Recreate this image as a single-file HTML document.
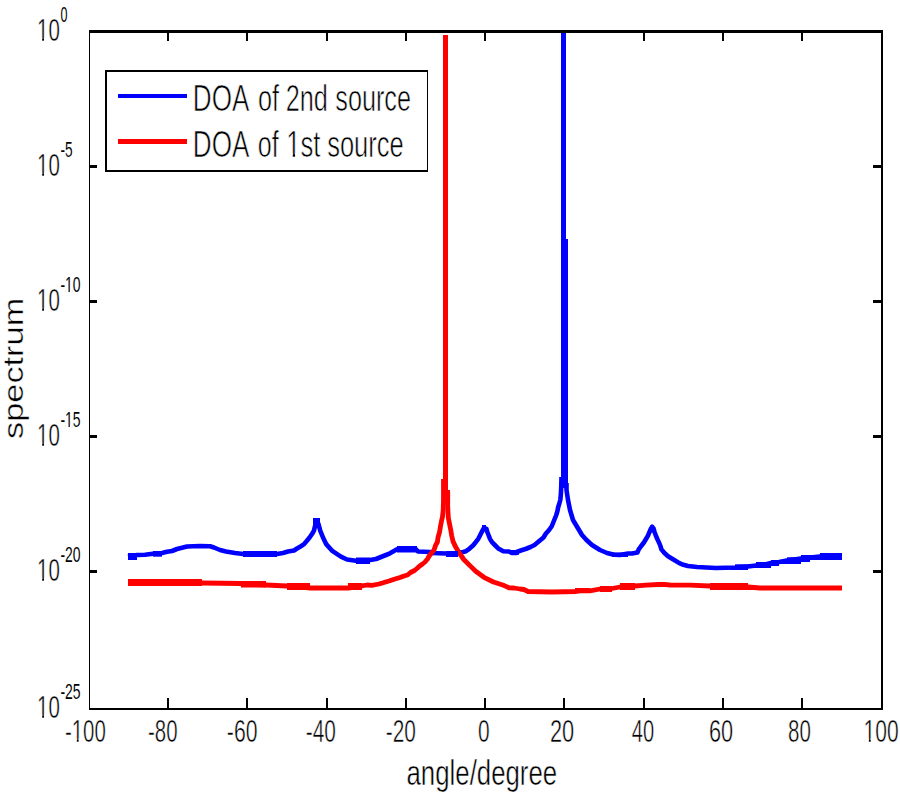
<!DOCTYPE html>
<html><head><meta charset="utf-8"><title>DOA spectrum</title>
<style>
html,body{margin:0;padding:0;background:#fff;width:900px;height:800px;overflow:hidden}
svg{display:block}
text{font-family:"Liberation Sans",Arial,sans-serif;fill:#000;font-kerning:none}
</style></head><body>
<svg width="900" height="800" viewBox="0 0 900 800">
<rect width="900" height="800" fill="#fff"/>
<g id="ticks" shape-rendering="crispEdges">
<rect x="167" y="33" width="2" height="8" fill="#000"/>
<rect x="167" y="698" width="2" height="10" fill="#000"/>
<rect x="246" y="33" width="2" height="8" fill="#000"/>
<rect x="246" y="698" width="2" height="10" fill="#000"/>
<rect x="326" y="33" width="2" height="8" fill="#000"/>
<rect x="326" y="698" width="2" height="10" fill="#000"/>
<rect x="405" y="33" width="2" height="8" fill="#000"/>
<rect x="405" y="698" width="2" height="10" fill="#000"/>
<rect x="484" y="33" width="2" height="8" fill="#000"/>
<rect x="484" y="698" width="2" height="10" fill="#000"/>
<rect x="563" y="33" width="2" height="8" fill="#000"/>
<rect x="563" y="698" width="2" height="10" fill="#000"/>
<rect x="643" y="33" width="2" height="8" fill="#000"/>
<rect x="643" y="698" width="2" height="10" fill="#000"/>
<rect x="722" y="33" width="2" height="8" fill="#000"/>
<rect x="722" y="698" width="2" height="10" fill="#000"/>
<rect x="801" y="33" width="2" height="8" fill="#000"/>
<rect x="801" y="698" width="2" height="10" fill="#000"/>
<rect x="90" y="165" width="7" height="3" fill="#000"/>
<rect x="873" y="165" width="8" height="3" fill="#000"/>
<rect x="90" y="300" width="7" height="3" fill="#000"/>
<rect x="873" y="300" width="8" height="3" fill="#000"/>
<rect x="90" y="435" width="7" height="3" fill="#000"/>
<rect x="873" y="435" width="8" height="3" fill="#000"/>
<rect x="90" y="570" width="7" height="3" fill="#000"/>
<rect x="873" y="570" width="8" height="3" fill="#000"/>
</g>
<g id="plot">
<polyline points="128,556.5 137,555 145,554.8 153,553.8 162,553 167,551.8 172,551 177,549 182,547.8 187,546.5 200,546 210,546.3 214,547.5 220,550 226,551.5 235,553 243,554 260,554.5 277,554 283,553 288,551.5 294,550.5 297,548.5 300.5,546.5 303.7,544.4 306.7,541 309.6,537.5 312,534 314,530.6 315.5,524 316.5,521 318.5,524 320.2,530.6 323,537.5 326.4,544.4 332.6,551.2 340.9,556.7 347,559.5 356,560.8 363,561 370,560 376,559 381,557 386,555 390,553.3 394,551 397,549.3 416,549.3 418,551.5 430,552 432,553 446,553.5 456,554 460,552.5 463,552 466,551.2 469.3,548.8 473,545.5 475.7,542.2 478.3,538.8 480,535.5 482,531.5 484,528 486.5,529 487.3,532 488.7,535.5 490,538.8 492,542.2 495.3,545.5 498.7,548.8 503.3,551.2 509,551.5 512,553 516,553 517.25,551.75 521.5,550.3 526.25,548.75 530.5,547 534.5,545 539,541.25 543.5,537.5 545.75,533.75 549.1,530 551.75,526.25 553.25,522.5 554.75,518.75 556.25,515 557.4,511.25 558.1,507.5 559.25,503.75 560.3,500 560.9,494 561.3,485 561.5,477" fill="none" stroke="#0000ff" stroke-width="4.6" stroke-linejoin="round"/>
<polyline points="566.5,483 566.5,490 568,500 570,510 573,520 576,525 579,530 582,535 586.5,540 592,545 600,550 607,553 614,554.8 620,555 628,553.5 632,553.5 637.4,552.6 638.7,549.4 641.2,546 643.9,542.5 646,539 648,535.6 649.4,532.2 651,528.5 652.2,526.8 653.5,528.5 654.6,532.2 655.9,535.6 657.3,539 659,542.5 660.4,546 661.4,549.4 664.2,552.8 668,556.2 673.8,559.7 679.3,563.1 683.4,564.8 688,566 697,567 716,568 735,567.5 748,566.5 756,565.5 763,565 771,563 779,562 787,560.5 794,559.5 801,558.5 810,557.5 820,556.5 830,556 842,556" fill="none" stroke="#0000ff" stroke-width="4.6" stroke-linejoin="round"/>
<polyline points="128,582.5 202,583 241,583.5 253,584.2 266,585 287,586 300,586.8 310,588 348,588 355,587 362,585.8 367,585 372,585.3 379,584 384,582.5 389,581 392,580 395,579 400,577.5 404,576 407.5,575 410.5,572.5 414.5,570.5 417.5,568 419.7,566 422.5,564 425,562 427.5,559 429.2,556 431.5,553 434,550 435.5,545.5 437.4,542 438,537.5 439.6,532 440.5,526.2 441.6,520.6 442.5,516.7 443.2,510 443.5,500 443.5,490 443.5,479" fill="none" stroke="#ff0000" stroke-width="4.8" stroke-linejoin="round"/>
<polyline points="447.75,492 447.7,506 448.3,517.8 449.5,523.8 450.7,529.7 451.7,535.7 453.1,541.6 456,547.6 459.6,553.5 463.8,559.5 469.7,565.4 475.7,571.3 484,577.3 493.5,582 504.2,585.6 509,587.8 514,588 520,589 524,589.5 528,591.5 552,592 575,591.5 582,590.5 590,590.8 600,589 612,588.5 620,587 635,586 646,585.2 658,584.5 664,584.3 670,585 690,585.2 710,586 748,587 760,588 842,588" fill="none" stroke="#ff0000" stroke-width="4.8" stroke-linejoin="round"/>
<rect x="561" y="32" width="5" height="452" fill="#0000ff"/>
<rect x="563" y="239" width="5" height="249" fill="#0000ff"/>
<rect x="443" y="35" width="5" height="457" fill="#ff0000"/>
<rect x="445.5" y="490" width="4.5" height="15" fill="#ff0000"/>
<rect x="128" y="553" width="9" height="7" fill="#0000ff"/>
<rect x="153" y="551" width="9" height="5.7000000000000455" fill="#0000ff"/>
<rect x="243" y="551" width="34" height="6" fill="#0000ff"/>
<rect x="356" y="557.5" width="14" height="6.5" fill="#0000ff"/>
<rect x="446" y="551" width="12" height="6" fill="#0000ff"/>
<rect x="510" y="550" width="9" height="4.75" fill="#0000ff"/>
<rect x="612" y="552.5" width="16" height="4.5" fill="#0000ff"/>
<rect x="730" y="566" width="5" height="4" fill="#0000ff"/>
<rect x="735" y="564.3" width="13" height="5.7000000000000455" fill="#0000ff"/>
<rect x="748" y="564.3" width="8" height="3.7000000000000455" fill="#0000ff"/>
<rect x="756" y="562" width="15" height="6" fill="#0000ff"/>
<rect x="771" y="560" width="8" height="6" fill="#0000ff"/>
<rect x="779" y="560" width="8" height="4" fill="#0000ff"/>
<rect x="787" y="557.3" width="14" height="6.7000000000000455" fill="#0000ff"/>
<rect x="801" y="555" width="9" height="7" fill="#0000ff"/>
<rect x="810" y="555" width="10" height="5" fill="#0000ff"/>
<rect x="820" y="553" width="22" height="7" fill="#0000ff"/>
<rect x="128" y="579" width="74" height="7" fill="#ff0000"/>
<rect x="241" y="581" width="25" height="6.5" fill="#ff0000"/>
<rect x="287" y="583" width="23" height="7" fill="#ff0000"/>
<rect x="348" y="583" width="14" height="7" fill="#ff0000"/>
<rect x="528" y="590" width="47" height="3.75" fill="#ff0000"/>
<rect x="575" y="588" width="15" height="5" fill="#ff0000"/>
<rect x="600" y="586" width="12" height="6" fill="#ff0000"/>
<rect x="620" y="583" width="15" height="7" fill="#ff0000"/>
<rect x="710" y="583" width="38" height="7" fill="#ff0000"/>
<rect x="748" y="586" width="94" height="4" fill="#ff0000"/>
<rect x="313" y="518" width="7" height="9" fill="#0000ff"/>
<rect x="482" y="525" width="4" height="6" fill="#0000ff"/>
<rect x="650.5" y="525" width="3" height="3" fill="#0000ff"/>
<rect x="650" y="527" width="5" height="5.5" fill="#0000ff"/>
<rect x="397" y="546" width="20" height="6.5" fill="#0000ff"/>
</g>
<g id="axes" shape-rendering="crispEdges">
<rect x="89" y="30" width="1" height="680" fill="#000"/>
<rect x="89" y="30" width="794" height="3" fill="#000"/>
<rect x="881" y="30" width="2" height="680" fill="#000"/>
<rect x="89" y="708" width="794" height="2" fill="#000"/>
</g>
<g id="legend">
<rect x="105" y="70" width="323" height="102" fill="#fff"/>
<g shape-rendering="crispEdges"><rect x="105" y="70" width="323" height="2" fill="#000"/><rect x="105" y="170" width="323" height="2" fill="#000"/><rect x="105" y="70" width="2" height="102" fill="#000"/><rect x="427" y="70" width="1" height="102" fill="#000"/></g>
<rect x="118" y="94" width="69" height="4" fill="#0000ff"/>
<rect x="118" y="139" width="69" height="5" fill="#ff0000"/>
</g>
<g id="labels">
<text x="37.03" y="40.80" font-size="30.5" textLength="22.77" lengthAdjust="spacingAndGlyphs" stroke="#fff" stroke-width="0.45">10</text>
<text x="60.51" y="22.00" font-size="21.5" textLength="6.98" lengthAdjust="spacingAndGlyphs" stroke="#fff" stroke-width="0.05">0</text>
<text x="37.03" y="175.80" font-size="30.5" textLength="22.77" lengthAdjust="spacingAndGlyphs" stroke="#fff" stroke-width="0.45">10</text>
<text x="60.39" y="157.00" font-size="21.5" textLength="12.18" lengthAdjust="spacingAndGlyphs" stroke="#fff" stroke-width="0.05">-5</text>
<text x="37.03" y="310.80" font-size="30.5" textLength="22.77" lengthAdjust="spacingAndGlyphs" stroke="#fff" stroke-width="0.45">10</text>
<text x="60.38" y="292.00" font-size="21.5" textLength="20.16" lengthAdjust="spacingAndGlyphs" stroke="#fff" stroke-width="0.05">-10</text>
<text x="37.03" y="445.80" font-size="30.5" textLength="22.77" lengthAdjust="spacingAndGlyphs" stroke="#fff" stroke-width="0.45">10</text>
<text x="60.38" y="427.00" font-size="21.5" textLength="20.21" lengthAdjust="spacingAndGlyphs" stroke="#fff" stroke-width="0.05">-15</text>
<text x="37.03" y="580.80" font-size="30.5" textLength="22.77" lengthAdjust="spacingAndGlyphs" stroke="#fff" stroke-width="0.45">10</text>
<text x="60.38" y="562.00" font-size="21.5" textLength="20.16" lengthAdjust="spacingAndGlyphs" stroke="#fff" stroke-width="0.05">-20</text>
<text x="37.03" y="717.80" font-size="30.5" textLength="22.77" lengthAdjust="spacingAndGlyphs" stroke="#fff" stroke-width="0.45">10</text>
<text x="60.38" y="699.00" font-size="21.5" textLength="20.21" lengthAdjust="spacingAndGlyphs" stroke="#fff" stroke-width="0.05">-25</text>
<text x="64.89" y="741.50" font-size="30.5" textLength="40.91" lengthAdjust="spacingAndGlyphs" stroke="#fff" stroke-width="0.5">-100</text>
<text x="147.99" y="741.50" font-size="30.5" textLength="29.50" lengthAdjust="spacingAndGlyphs" stroke="#fff" stroke-width="0.5">-80</text>
<text x="226.86" y="741.50" font-size="30.5" textLength="30.67" lengthAdjust="spacingAndGlyphs" stroke="#fff" stroke-width="0.5">-60</text>
<text x="305.77" y="741.50" font-size="30.5" textLength="30.14" lengthAdjust="spacingAndGlyphs" stroke="#fff" stroke-width="0.5">-40</text>
<text x="385.77" y="741.50" font-size="30.5" textLength="30.14" lengthAdjust="spacingAndGlyphs" stroke="#fff" stroke-width="0.5">-20</text>
<text x="478.08" y="741.50" font-size="30.5" textLength="11.63" lengthAdjust="spacingAndGlyphs" stroke="#fff" stroke-width="0.5">0</text>
<text x="549.90" y="741.50" font-size="30.5" textLength="24.25" lengthAdjust="spacingAndGlyphs" stroke="#fff" stroke-width="0.5">20</text>
<text x="631.74" y="741.50" font-size="30.5" textLength="22.35" lengthAdjust="spacingAndGlyphs" stroke="#fff" stroke-width="0.5">40</text>
<text x="708.90" y="741.50" font-size="30.5" textLength="24.15" lengthAdjust="spacingAndGlyphs" stroke="#fff" stroke-width="0.5">60</text>
<text x="788.01" y="741.50" font-size="30.5" textLength="22.79" lengthAdjust="spacingAndGlyphs" stroke="#fff" stroke-width="0.5">80</text>
<text x="863.58" y="741.50" font-size="30.5" textLength="35.04" lengthAdjust="spacingAndGlyphs" stroke="#fff" stroke-width="0.5">100</text>
<text x="192.86" y="111.00" font-size="37.8" textLength="56.49" lengthAdjust="spacingAndGlyphs" stroke="#fff" stroke-width="0.7">DOA</text>
<text x="257.94" y="111.00" font-size="37.8" textLength="21.02" lengthAdjust="spacingAndGlyphs" stroke="#fff" stroke-width="0.7">of</text>
<text x="285.73" y="111.00" font-size="37.8" textLength="42.20" lengthAdjust="spacingAndGlyphs" stroke="#fff" stroke-width="0.7">2nd</text>
<text x="335.30" y="111.00" font-size="37.8" textLength="75.72" lengthAdjust="spacingAndGlyphs" stroke="#fff" stroke-width="0.7">source</text>
<text x="192.86" y="157.00" font-size="37.8" textLength="56.59" lengthAdjust="spacingAndGlyphs" stroke="#fff" stroke-width="0.7">DOA</text>
<text x="257.85" y="157.00" font-size="37.8" textLength="20.92" lengthAdjust="spacingAndGlyphs" stroke="#fff" stroke-width="0.7">of</text>
<text x="286.34" y="157.00" font-size="37.8" textLength="34.15" lengthAdjust="spacingAndGlyphs" stroke="#fff" stroke-width="0.7">1st</text>
<text x="327.19" y="157.00" font-size="37.8" textLength="76.54" lengthAdjust="spacingAndGlyphs" stroke="#fff" stroke-width="0.7">source</text>
<text x="406.50" y="785.00" font-size="34.5" textLength="150.64" lengthAdjust="spacingAndGlyphs" stroke="#fff" stroke-width="0.5">angle/degree</text>
<text transform="translate(23 438) rotate(-90)" x="-0.96" y="0" font-size="28" textLength="141.22" lengthAdjust="spacingAndGlyphs" stroke="#fff" stroke-width="0.4">spectrum</text>
</g>
<g id="m">
<rect x="37.93" y="37.82" width="4.23" height="4.98" fill="#fff"/>
<rect x="44.03" y="37.82" width="4.10" height="4.98" fill="#fff"/>
<rect x="37.93" y="172.82" width="4.23" height="4.98" fill="#fff"/>
<rect x="44.03" y="172.82" width="4.10" height="4.98" fill="#fff"/>
<rect x="37.93" y="307.82" width="4.23" height="4.98" fill="#fff"/>
<rect x="44.03" y="307.82" width="4.10" height="4.98" fill="#fff"/>
<rect x="65.64" y="289.90" width="2.88" height="4.10" fill="#fff"/>
<rect x="69.79" y="289.90" width="2.79" height="4.10" fill="#fff"/>
<rect x="37.93" y="442.82" width="4.23" height="4.98" fill="#fff"/>
<rect x="44.03" y="442.82" width="4.10" height="4.98" fill="#fff"/>
<rect x="65.65" y="424.90" width="2.89" height="4.10" fill="#fff"/>
<rect x="69.81" y="424.90" width="2.80" height="4.10" fill="#fff"/>
<rect x="37.93" y="577.82" width="4.23" height="4.98" fill="#fff"/>
<rect x="44.03" y="577.82" width="4.10" height="4.98" fill="#fff"/>
<rect x="37.93" y="714.82" width="4.23" height="4.98" fill="#fff"/>
<rect x="44.03" y="714.82" width="4.10" height="4.98" fill="#fff"/>
<rect x="72.60" y="738.52" width="4.22" height="4.98" fill="#fff"/>
<rect x="78.68" y="738.52" width="4.09" height="4.98" fill="#fff"/>
<rect x="864.50" y="738.52" width="4.34" height="4.98" fill="#fff"/>
<rect x="870.76" y="738.52" width="4.20" height="4.98" fill="#fff"/>
<rect x="287.46" y="153.31" width="5.29" height="5.69" fill="#fff"/>
<rect x="295.09" y="153.31" width="5.12" height="5.69" fill="#fff"/>
</g>
</svg>
</body></html>
